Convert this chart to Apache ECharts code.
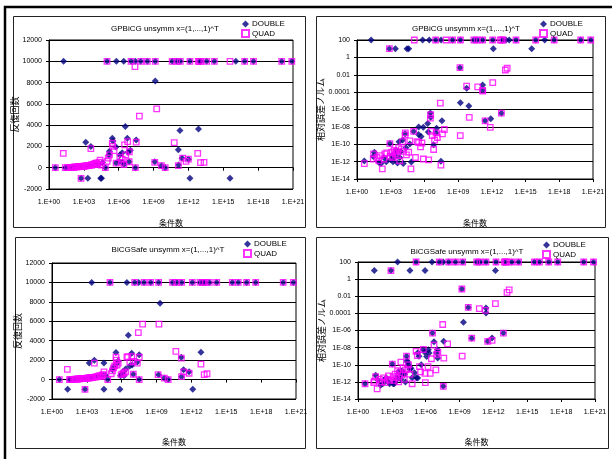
<!DOCTYPE html>
<html>
<head>
<meta charset="utf-8">
<script src="https://cdn.jsdelivr.net/npm/echarts@6/dist/echarts.min.js"></script>
<style>
html,body{margin:0;padding:0;background:#fff}
#c{width:612px;height:459px}
</style>
</head>
<body>
<div id="c"></div>
<script>
// Tick labels
const condTickLabels = ['1.E+00','1.E+03','1.E+06','1.E+09','1.E+12','1.E+15','1.E+18','1.E+21'];
const errTickLabels = ['1E-14','1E-12','1E-10','1E-08','1E-06','0.0001','0.01','1','100'];

// Panel titles and axis names
const panelTitles = ['GPBiCG unsymm x=(1,...,1)^T','GPBiCG unsymm x=(1,...,1)^T','BiCGSafe unsymm x=(1,...,1)^T','BiCGSafe unsymm x=(1,...,1)^T'];
const xName = '条件数';
const iterName = '反復回数';
const errName = '相対誤差ノルム';
const seriesNames = ['DOUBLE','QUAD'];

// GPBiCG: iteration count vs condition number  [condition number, iterations]
const gpIterDouble = [[3.5,0],[18,10000],[25,0],[40,10],[63,20],[100,30],[160,50],[250,70],[400,90],[575,-1000],[710,150],[1e3,120],[1.45e3,2400],[1.6e3,180],[2.2e3,-1000],[2.5e3,220],[3.2e3,250],[4e3,2000],[5e3,300],[7.9e3,250],[1.26e4,400],[2e4,350],[2.8e4,-1000],[3.3e4,-1000],[4e4,500],[7.1e4,0],[9.8e4,10000],[1.45e5,1200],[1.6e5,1550],[2.8e5,2780],[3.2e5,2500],[5.75e5,1940],[6e5,440],[6.3e5,10000],[1.1e6,600],[1.26e6,1200],[2e6,1400],[2.2e6,500],[2.7e6,10000],[2.8e6,300],[3.7e6,3870],[5.5e6,2780],[6.3e6,1460],[7.9e6,560],[1e7,1650],[1.15e7,10000],[2.7e7,0],[2.7e7,10000],[3.2e7,2600],[7.8e7,10000],[2.9e8,10000],[1.26e9,560],[1.4e9,8150],[1.4e9,10000],[4.8e9,190],[1e10,0],[4e10,10000],[9.8e10,10000],[1.35e11,1685],[1.4e11,250],[1.86e11,3500],[2e11,10000],[2.8e11,900],[1e12,800],[1.35e12,-1000],[1.35e12,10000],[7.4e12,3630],[8.7e12,10000],[1.12e13,10000],[3.7e13,10000],[1.7e14,10000],[3.8e15,-1000],[1.2e16,10000],[6.9e16,10000],[4e17,10000],[1.07e20,10000],[7.9e20,10000]];
const gpIterQuad = [[3.5,0],[17,1350],[25,0],[40,15],[63,20],[80,30],[100,40],[130,50],[160,60],[200,70],[250,80],[320,90],[400,100],[500,110],[575,-1000],[630,120],[800,130],[1e3,140],[1.26e3,150],[1.6e3,170],[2e3,190],[2.5e3,200],[3.2e3,220],[4e3,1800],[4e3,250],[5e3,280],[6.3e3,300],[8e3,350],[1e4,400],[1.26e4,450],[1.6e4,300],[2e4,500],[2.5e4,700],[3.2e4,250],[7.1e4,0],[9.8e4,10000],[1e5,600],[1.26e5,900],[1.6e5,1200],[2.8e5,2300],[3e5,2000],[4e5,1600],[6e5,440],[1.26e6,1000],[1.6e6,500],[2e6,800],[2.8e6,300],[3.2e6,2150],[4e6,1200],[5.9e6,2450],[7.9e6,560],[8.3e6,1500],[1.15e7,10000],[2.5e7,9500],[2.7e7,0],[3.2e7,2400],[6e7,4850],[7.8e7,10000],[2.9e8,10000],[1.26e9,500],[1.4e9,10000],[1.86e9,5530],[4.8e9,200],[1e10,0],[4e10,10000],[6e10,2350],[9.8e10,10000],[1.35e11,200],[2e11,10000],[3.2e11,900],[6.3e11,600],[1e12,800],[1.35e12,10000],[6.3e12,1350],[7e12,10000],[8.7e12,10000],[1.1e13,480],[1.12e13,10000],[2.2e13,500],[3.7e13,10000],[1.7e14,10000],[3.8e15,10000],[6.9e16,10000],[4e17,10000],[1.07e20,10000],[7.9e20,10000]];

// GPBiCG: relative error norm vs condition number
const gpErrDouble = [[18,100],[6.9e5,100],[2.7e6,100],[1e7,100],[3e7,100],[3.2e8,100],[1.6e9,100],[2.5e10,100],[5e10,100],[1.5e11,100],[1.2e12,100],[9e12,100],[1.8e13,100],[3.5e13,100],[1.4e14,100],[8e15,100],[5e16,100],[3.5e17,100],[8e19,100],[6.3e20,100],[760,10],[2.6e3,10],[2.8e4,10],[4e4,10],[1.35e12,10],[3.5e15,10],[4.5,1.2e-12],[28,4e-12],[35,1.2e-11],[91,8e-13],[135,6e-13],[250,3e-12],[400,1e-12],[850,1.2e-10],[1e3,1.6e-12],[1.3e3,5e-12],[1.6e3,1e-12],[2e3,3e-12],[2.5e3,6e-12],[3.2e3,2e-11],[4e3,7e-13],[5.5e3,2e-10],[6.3e3,3e-12],[8e3,1.5e-11],[1.15e4,3e-10],[1.3e4,6e-13],[1.9e4,1.6e-9],[2.2e4,4e-11],[5e4,1.1e-10],[6.8e4,9e-13],[1.1e5,3e-9],[3e5,1.3e-9],[3.1e5,1e-8],[5e5,8e-10],[8e5,9e-9],[1.95e6,2.5e-8],[2.2e6,2.5e-9],[3.4e6,4e-7],[3.6e6,1.3e-7],[6.6e6,8.7e-11],[1.07e7,2e-9],[1.2e7,7e-9],[2.95e7,1.1e-12],[3.6e7,5e-8],[1.45e9,0.066],[1.58e9,6e-6],[5.75e9,2.8e-4],[8.9e9,2.6e-6],[1.5e11,6.8e-4],[1.55e11,1.6e-4],[2.5e11,5e-8],[8e11,8.5e-8],[7e12,3.8e-7]];
const gpErrQuad = [[1.26e5,100],[1e7,100],[8.3e7,100],[3.2e8,100],[1.6e9,100],[2.5e10,100],[5e10,100],[1.5e11,100],[1.2e12,100],[5.6e12,100],[7.5e12,100],[1e13,100],[1.4e14,100],[8e15,100],[3.5e17,100],[8e19,100],[6.3e20,100],[760,10],[4.5,6e-13],[28,2e-12],[30,8e-12],[60,3e-12],[90,1.2e-12],[120,5e-12],[178,1.5e-13],[250,2e-12],[300,8e-12],[450,1e-11],[850,1.2e-10],[900,4e-12],[1.2e3,1.2e-11],[1.5e3,3e-12],[2e3,2e-11],[2.5e3,8e-12],[3e3,1.5e-11],[4e3,5e-12],[5e3,4e-11],[6.3e3,1.2e-12],[9e3,3e-11],[1.15e4,2e-10],[1.3e4,1.5e-11],[1.9e4,1.2e-9],[2e4,2e-9],[2.5e4,6e-12],[4e4,1.2e-11],[5e4,2.5e-10],[6.3e4,1.5e-13],[1.1e5,3e-9],[1.6e5,3e-12],[2.2e5,2e-10],[3e5,1.6e-10],[4.5e5,5e-11],[6e5,1.4e-10],[8e5,2e-12],[2.4e6,1.6e-12],[3.4e6,1e-7],[3.6e6,2.5e-7],[4e6,3e-9],[5e6,1e-9],[6.6e6,2.5e-11],[8e6,3e-10],[1.1e7,2e-9],[1.4e7,6e-10],[2.6e7,5.4e-6],[2.95e7,4e-13],[4e7,1.6e-9],[5.9e7,5e-9],[1.45e9,0.066],[1.55e9,1e-9],[5.7e9,5e-4],[9.8e9,1.26e-7],[5.5e10,4e-4],[1.5e11,1.6e-4],[1.55e11,1.3e-4],[2.5e11,5e-8],[7.2e11,8.7e-9],[1.2e12,1.26e-3],[7e12,3.8e-7],[1.6e13,0.035],[2.3e13,0.056]];

// BiCGSafe: iteration count vs condition number
const bsIterDouble = [[4.3,0],[22,-1000],[32,0],[40,10],[63,20],[100,40],[160,60],[250,80],[400,100],[690,-1000],[800,130],[1e3,150],[1.26e3,180],[1.6e3,1700],[2e3,200],[2.6e3,10000],[3.2e3,220],[4.4e3,2000],[5e3,250],[8e3,280],[1e4,300],[1.6e4,350],[2.5e4,400],[2.95e4,1700],[2.95e4,-1000],[4e4,450],[6.3e4,0],[9.8e4,10000],[1.6e5,1000],[2e5,1300],[3.2e5,2790],[3.5e5,1600],[5e5,1900],[7e5,-1000],[8e5,400],[9e5,500],[1.26e6,800],[1.6e6,400],[2.2e6,1100],[2.8e6,10000],[3.7e6,4570],[5e6,1400],[7.2e6,2720],[8e6,1500],[1e7,550],[1.3e7,10000],[2.2e7,1800],[2.9e7,10000],[3.2e7,2550],[3.2e7,0],[8.3e7,10000],[3.1e8,10000],[1.5e9,500],[1.5e9,10000],[2e9,7860],[4.7e9,150],[1e10,0],[2.4e10,10000],[5.4e10,10000],[1.35e11,2300],[1.4e11,300],[1.45e11,10000],[2.1e11,1000],[6.3e11,800],[1.2e12,10000],[1.3e12,-1000],[5.5e12,10000],[6.6e12,2800],[9.3e12,10000],[1.5e13,10000],[3.5e13,10000],[1.5e14,10000],[3.3e15,10000],[1.07e16,10000],[5.6e16,10000],[3.4e17,10000],[7.9e19,10000],[5.9e20,10000]];
const bsIterQuad = [[4.3,0],[21,1050],[32,0],[40,15],[63,20],[80,30],[100,40],[130,50],[160,60],[200,70],[250,80],[320,90],[400,100],[500,110],[690,-1000],[630,120],[800,130],[1e3,140],[1.26e3,150],[1.6e3,170],[2e3,190],[2.5e3,200],[3.2e3,220],[4.4e3,1700],[5e3,250],[6.3e3,280],[8e3,300],[1e4,350],[1.26e4,400],[1.6e4,300],[2e4,450],[2.5e4,500],[3e4,800],[6.3e4,0],[9.8e4,10000],[1.26e5,600],[1.6e5,900],[2e5,1200],[2.5e5,1400],[3.2e5,2300],[3.5e5,2000],[4e5,1500],[5e5,1700],[9e5,500],[1.26e6,600],[1.6e6,700],[2.2e6,800],[2.8e6,2300],[3.3e6,2370],[5e6,1800],[7.2e6,2370],[1e7,550],[1e7,1860],[1.3e7,10000],[2.2e7,1700],[2.7e7,4840],[3.2e7,2300],[3.2e7,0],[6.3e7,5700],[8.3e7,10000],[3.1e8,10000],[1.35e9,500],[1.5e9,10000],[1.6e9,5700],[4.7e9,150],[1e10,0],[2.4e10,10000],[4.6e10,2900],[5.4e10,10000],[1.35e11,2200],[1.4e11,300],[1.45e11,10000],[2.2e11,800],[6.3e11,650],[1.2e12,10000],[5.5e12,10000],[6.6e12,1600],[9.3e12,10000],[1.26e13,500],[1.5e13,10000],[2.2e13,600],[3.5e13,10000],[1.5e14,10000],[3.3e15,10000],[1.07e16,10000],[5.6e16,10000],[3.4e17,10000],[7.9e19,10000],[5.9e20,10000]];

// BiCGSafe: relative error norm vs condition number
const bsErrDouble = [[3.2e3,100],[1.4e5,100],[3.6e6,100],[1.6e7,100],[3.6e7,100],[1.1e8,100],[4.3e8,100],[1.9e9,100],[3.3e10,100],[6.5e10,100],[2.2e11,100],[1.7e12,100],[1.15e13,100],[4.2e13,100],[1.7e14,100],[4.3e15,100],[1.2e16,100],[8e16,100],[5e17,100],[1e20,100],[7.4e20,100],[28,10],[830,10],[4e4,10],[8.7e5,10],[1.5e12,10],[4.2,6e-13],[37,6e-12],[60,1.5e-12],[100,4e-13],[155,6e-13],[200,1.5e-12],[320,3e-12],[500,1e-12],[630,6e-13],[1.1e3,1.2e-10],[1.3e3,6e-13],[1.6e3,6e-13],[2e3,1e-12],[2.5e3,2e-12],[3.2e3,5e-12],[4e3,1.5e-11],[5e3,5e-12],[6.3e3,2e-12],[8e3,2e-11],[1e4,1e-11],[1.3e4,8e-12],[1.6e4,1e-12],[2e4,1e-9],[2.2e4,3e-10],[2.5e4,2e-10],[3e4,1e-10],[4e4,3e-11],[5e4,4e-11],[6.3e4,3e-12],[1e5,1.2e-11],[1.5e5,3e-12],[1.95e5,2.8e-12],[2e5,2.5e-9],[2.5e5,1e-9],[4e5,1e-10],[6.2e5,6e-9],[8e5,3e-9],[1.2e6,9e-10],[1.7e6,5.6e-9],[2e6,2.3e-9],[4e6,5e-7],[5.4e6,5e-8],[9e6,2.3e-9],[1.1e7,5.6e-9],[1.15e7,6e-10],[3.6e7,3e-13],[3.9e7,5.4e-8],[1.6e9,0.07],[2.2e9,9e-6],[5.9e9,5e-4],[1.2e10,1.26e-7],[2.2e11,4.3e-4],[2.2e11,1.1e-4],[3.1e11,5.4e-8],[7.6e11,1.3e-7],[7.6e12,5e-7]];
const bsErrQuad = [[1.4e5,100],[1.6e7,100],[1.1e8,100],[4.3e8,100],[1.9e9,100],[3.3e10,100],[6.5e10,100],[2.2e11,100],[1.7e12,100],[9e12,100],[1.15e13,100],[1.4e13,100],[4.2e13,100],[1.7e14,100],[4.3e15,100],[1.2e16,100],[8e16,100],[5e17,100],[1e20,100],[7.4e20,100],[830,10],[4.2,6e-13],[25,8e-13],[28,1.2e-12],[37,4e-12],[50,1.5e-13],[80,2e-12],[120,1e-12],[180,3e-12],[250,8e-13],[400,2e-12],[500,5e-12],[630,1.5e-12],[1.1e3,1.2e-10],[1.3e3,4e-12],[1.6e3,1.5e-12],[2e3,8e-12],[2.5e3,3e-12],[3.2e3,2e-11],[4e3,1e-12],[5e3,1.2e-11],[6.3e3,2e-10],[8e3,6e-12],[1e4,4e-11],[1.26e4,2e-12],[1.6e4,2.5e-11],[2e4,1e-9],[2.5e4,3e-11],[3e4,1e-10],[4e4,8e-12],[6.3e4,6e-13],[1.4e5,3.6e-9],[1.8e5,1.2e-9],[2.8e5,6e-11],[3.5e5,1.5e-11],[6.2e5,6e-9],[8.7e5,1e-11],[9.3e5,8e-13],[1.6e6,6e-11],[2.5e6,1e-11],[3.2e6,5e-10],[4e6,5e-7],[5.4e6,2e-8],[7.9e6,2.5e-11],[9.3e6,1.6e-9],[1.2e7,3e-9],[3.2e7,5e-6],[3.6e7,3e-13],[4e7,6e-10],[8.7e7,2.8e-8],[1.6e9,0.07],[1.7e9,1e-9],[5.9e9,5e-4],[1.2e10,1.26e-7],[5.6e10,3.5e-4],[1.9e11,2.2e-4],[3.1e11,5.4e-8],[7.6e11,7e-8],[1.5e12,1.35e-3],[7.6e12,5e-7],[1.6e13,0.028],[2.5e13,0.057]];

const panelData = [
  [gpIterDouble, gpIterQuad],
  [gpErrDouble, gpErrQuad],
  [bsIterDouble, bsIterQuad],
  [bsErrDouble, bsErrQuad]
];

const FONT = '"Liberation Sans", Arial, "Noto Sans CJK JP", sans-serif';
const JP = '"Noto Sans CJK JP", sans-serif';

// plot rectangles for the four panels
const grids = [
  {left: 49, top: 40, width: 244, height: 149},
  {left: 357, top: 40, width: 236, height: 139},
  {left: 52, top: 263, width: 244, height: 136},
  {left: 358, top: 262, width: 237, height: 137}
];
const frames = [[13.5, 16.5, 292, 211], [316.5, 16.5, 289, 211], [15.5, 237.5, 290, 211], [316.5, 237.5, 292, 211]];
const titlePos = [[160, 20], [461, 20], [163, 241], [462, 243]];
const legendPos = [[236, 15], [534, 15], [238, 235], [537, 236]];
const xNameGap = [30, 40, 39, 39];
const yNameGap = [23, 31, 24, 32];

const isErr = i => i === 1 || i === 3;

const option = {
  animation: false,
  textStyle: {fontFamily: FONT},
  title: panelTitles.map((t, i) => ({
    text: t, left: titlePos[i][0], top: titlePos[i][1], textAlign: 'center',
    textStyle: {fontSize: 8, fontWeight: 'normal', color: '#000', fontFamily: FONT}
  })),
  legend: legendPos.map(p => ({
    left: p[0], top: p[1], orient: 'vertical', itemGap: 1, itemWidth: 7, itemHeight: 7,
    selectedMode: false, data: seriesNames, z: 10,
    textStyle: {fontSize: 8, color: '#000', fontFamily: FONT, padding: [0, 0, 0, -2]}
  })),
  grid: grids.map(g => Object.assign({show: true, borderColor: '#000', borderWidth: 1, backgroundColor: '#fff'}, g)),
  xAxis: grids.map((g, i) => ({
    type: 'log', logBase: 10, gridIndex: i, min: 1, max: 1e21, interval: 3,
    name: xName, nameLocation: 'middle', nameGap: xNameGap[i],
    nameTextStyle: {fontSize: 8, color: '#000', fontFamily: JP},
    axisLine: {lineStyle: {color: '#000', width: 1}},
    axisTick: {show: true, length: 3, lineStyle: {color: '#000'}},
    axisLabel: {fontSize: 7, color: '#000', margin: 10, showMaxLabel: true, showMinLabel: true,
      formatter: v => condTickLabels[Math.round(Math.log10(v) / 3)]},
    splitLine: {show: false}
  })),
  yAxis: grids.map((g, i) => isErr(i) ? {
    type: 'log', logBase: 10, gridIndex: i, min: 1e-14, max: 100, interval: 2,
    name: errName, nameLocation: 'middle', nameGap: yNameGap[i],
    nameTextStyle: {fontSize: 9, color: '#000', fontFamily: JP},
    axisLine: {lineStyle: {color: '#000'}},
    axisTick: {show: true, length: 3, lineStyle: {color: '#000'}},
    axisLabel: {fontSize: 7, color: '#000', margin: 7,
      formatter: v => errTickLabels[Math.round((Math.log10(v) + 14) / 2)]},
    splitLine: {show: true, lineStyle: {color: '#000', width: 1}}
  } : {
    type: 'value', gridIndex: i, min: -2000, max: 12000, interval: 2000,
    name: iterName, nameLocation: 'middle', nameGap: yNameGap[i],
    nameTextStyle: {fontSize: 9, color: '#000', fontFamily: JP},
    axisLine: {lineStyle: {color: '#000'}},
    axisTick: {show: true, length: 3, lineStyle: {color: '#000'}},
    axisLabel: {fontSize: 7, color: '#000', margin: 7, formatter: v => String(v)},
    splitLine: {show: true, lineStyle: {color: '#000', width: 1}}
  }),
  series: [],
  graphic: [
    {type: 'polyline', shape: {points: [[5, 459], [5, 7], [612, 7]]}, style: {stroke: '#000', lineWidth: 2.5, fill: null}}
  ].concat(frames.map(f => ({
    type: 'rect', shape: {x: f[0], y: f[1], width: f[2], height: f[3]},
    style: {fill: null, stroke: '#222', lineWidth: 1}, silent: true
  })))
};

panelData.forEach((pair, i) => {
  option.series.push({
    type: 'scatter', name: seriesNames[0], xAxisIndex: i, yAxisIndex: i, data: pair[0],
    symbol: 'diamond', symbolSize: 7, itemStyle: {color: '#000080'}, z: 2
  });
  option.series.push({
    type: 'scatter', name: seriesNames[1], xAxisIndex: i, yAxisIndex: i, data: pair[1],
    symbol: 'rect', symbolSize: 5.5,
    itemStyle: {color: 'rgba(255,255,255,0)', borderColor: '#ff00ff', borderWidth: 1.3}, z: 3
  });
});

const chart = echarts.init(document.getElementById('c'), null, {renderer: 'canvas'});
chart.setOption(option);
</script>
</body>
</html>
